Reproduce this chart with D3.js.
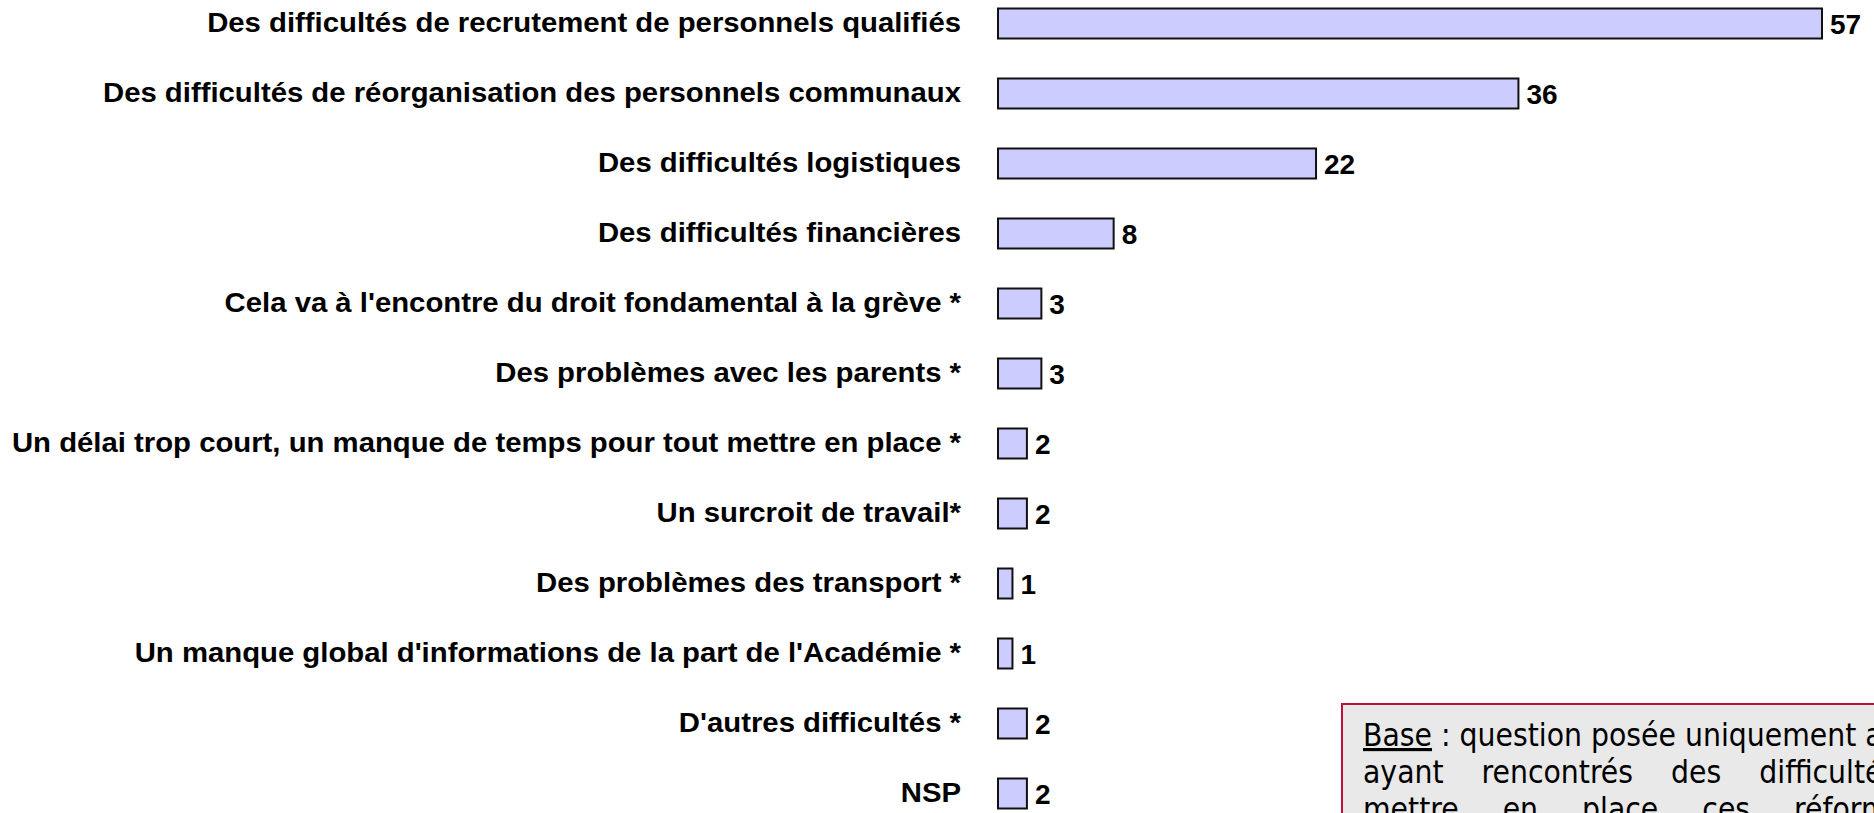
<!DOCTYPE html>
<html lang="fr">
<head>
<meta charset="utf-8">
<title>Difficultés rencontrées</title>
<script src="https://d3js.org/d3.v7.min.js"></script>
<style>
body { margin: 0; background: #fff; overflow: hidden; }
</style>
</head>
<body>
<div id="chart"></div>
<script>
var width = 1874;
var height = 813;

var categories = [
    "Des difficultés de recrutement de personnels qualifiés",
    "Des difficultés de réorganisation des personnels communaux",
    "Des difficultés logistiques",
    "Des difficultés financières",
    "Cela va à l'encontre du droit fondamental à la grève *",
    "Des problèmes avec les parents *",
    "Un délai trop court, un manque de temps pour tout mettre en place *",
    "Un surcroit de travail*",
    "Des problèmes des transport *",
    "Un manque global d'informations de la part de l'Académie *",
    "D'autres difficultés *",
    "NSP"
];
var values = [57, 36, 22, 8, 3, 3, 2, 2, 1, 1, 2, 2];

var noteLines = [
    "question posée uniquement aux maires",
    "ayant rencontrés des difficultés à",
    "mettre en place ces réformes"
];

var svg = d3.select("#chart")
    .append("svg")
    .attr("width", width)
    .attr("height", height);

var x = d3.scaleLinear().domain([0, 57]).range([998, 1822]);
var y = d3.scalePoint().domain(categories).range([23.5, 793.5]);
var barH = 30;

// bars
svg.selectAll("rect.bar")
    .data(categories)
    .enter().append("rect")
    .attr("class", "bar")
    .attr("x", x(0))
    .attr("y", function (d) { return y(d) - barH / 2; })
    .attr("width", function (d, i) { return x(values[i]) - x(0); })
    .attr("height", barH)
    .attr("fill", "#ccccff")
    .attr("stroke", "#111")
    .attr("stroke-width", 2);

// category labels (the original font is a bit wider than Arial)
svg.selectAll("text.cat")
    .data(categories)
    .enter().append("text")
    .attr("class", "cat")
    .attr("transform", function (d) { return "translate(961," + (y(d) + 8) + ") scale(1.066,1)"; })
    .attr("text-anchor", "end")
    .attr("font-family", "'Liberation Sans', Arial, sans-serif")
    .attr("font-weight", "bold")
    .attr("font-size", 27.5)
    .attr("fill", "#000")
    .text(function (d) { return d; });

// value labels
svg.selectAll("text.val")
    .data(categories)
    .enter().append("text")
    .attr("class", "val")
    .attr("x", function (d, i) { return x(values[i]) + 8; })
    .attr("y", function (d) { return y(d) + 10; })
    .attr("font-family", "'Liberation Sans', Arial, sans-serif")
    .attr("font-weight", "bold")
    .attr("font-size", 28)
    .attr("fill", "#000")
    .text(function (d, i) { return values[i]; });

// note box (runs off the page edge, like the original)
var note = svg.append("g");
note.append("rect")
    .attr("x", 1342)
    .attr("y", 704)
    .attr("width", 700)
    .attr("height", 200)
    .attr("fill", "#e9e9e9")
    .attr("stroke", "#c0103a")
    .attr("stroke-width", 2);

var noteFont = "'DejaVu Sans Condensed', 'DejaVu Sans', sans-serif";
var noteSize = 31.5;
var t1 = note.append("text")
    .attr("x", 1363)
    .attr("y", 746)
    .attr("font-family", noteFont)
    .attr("font-size", noteSize)
    .attr("fill", "#000");
t1.append("tspan").attr("text-decoration", "underline").text("Base");
t1.append("tspan").text(" : " + noteLines[0]);

note.append("text")
    .attr("x", 1363)
    .attr("y", 783)
    .attr("font-family", noteFont)
    .attr("font-size", noteSize)
    .attr("word-spacing", 29)
    .attr("fill", "#000")
    .text(noteLines[1]);

note.append("text")
    .attr("x", 1363)
    .attr("y", 820)
    .attr("font-family", noteFont)
    .attr("font-size", noteSize)
    .attr("word-spacing", 35)
    .attr("fill", "#000")
    .text(noteLines[2]);
</script>
</body>
</html>
